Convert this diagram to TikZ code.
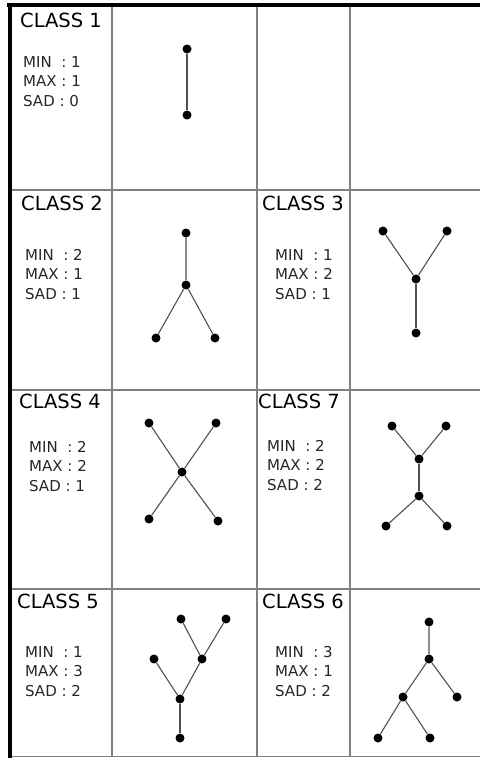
\documentclass[tikz,border=0pt]{standalone}
\usepackage{fontspec}
\setmainfont{DejaVu Sans}
\usepackage{xcolor}
\definecolor{grid-gray}{HTML}{808080}
\definecolor{edge-gray}{HTML}{505050}

% one cell of text: title and the three counts
\newcommand{\classcell}[9]{%
  \node[title, anchor=base west] (t#1) at (#2,#3) {CLASS #6};
  \node[stat, anchor=base west] (mn#1) at (#4,#5) {MIN\ \ : #7};
  \node[stat, anchor=base west] (mx#1) at (#4,#5+19.5) {MAX : #8};
  \node[stat, anchor=base west] (sd#1) at (#4,#5+39) {SAD : #9};
}

\begin{document}
\begin{tikzpicture}[x=1pt, y=-1pt,
      title/.style={inner sep=0pt, font=\fontsize{19.5}{22}\selectfont},
      stat/.style={inner sep=0pt, text=black!85, font=\fontsize{15}{18}\selectfont},
      pt/.style={circle, fill=black, inner sep=0pt, minimum size=9pt},
      edge/.style={edge-gray, line width=1.1pt},
      gridline/.style={grid-gray, line width=1.3pt}]
    \useasboundingbox (0,0) rectangle (480,758);
    % grid
    \foreach \gx in {112,257,350}
      \draw[gridline] (\gx,5) -- (\gx,757);
    \foreach \gy in {190,390,589,756.5}
      \draw[gridline] (10,\gy) -- (480,\gy);
    \draw[line width=4pt] (7,5) -- (480,5);
    \draw[line width=4pt] (9.5,3) -- (9.5,758);

    \classcell{1}{20}{27}{23}{67}{1}{1}{1}{0}
    \classcell{2}{21}{210}{25}{260}{2}{2}{1}{1}
    \classcell{3}{262}{210}{275}{260}{3}{1}{2}{1}
    \classcell{4}{19}{408}{29}{452}{4}{2}{2}{1}
    \classcell{7}{258}{408}{267}{451}{7}{2}{2}{2}
    \classcell{5}{17}{608}{25}{657}{5}{1}{3}{2}
    \classcell{6}{262}{608}{275}{657}{6}{3}{1}{2}

    % class 1
    \node[pt] (a1) at (187,49) {};
    \node[pt] (a2) at (187,115) {};
    \draw[edge] (a1) -- (a2);

    % class 2
    \node[pt] (b1) at (186,233) {};
    \node[pt] (b2) at (186,285) {};
    \node[pt] (b3) at (156,338) {};
    \node[pt] (b4) at (215,338) {};
    \draw[edge] (b1) -- (b2) -- (b3);
    \draw[edge] (b2) -- (b4);

    % class 3
    \node[pt] (c1) at (383,231) {};
    \node[pt] (c2) at (447,231) {};
    \node[pt] (c3) at (416,279) {};
    \node[pt] (c4) at (416,333) {};
    \draw[edge] (c1) -- (c3) -- (c2);
    \draw[edge] (c3) -- (c4);

    % class 4
    \node[pt] (d1) at (149,423) {};
    \node[pt] (d2) at (216,423) {};
    \node[pt] (d3) at (182,472) {};
    \node[pt] (d4) at (149,519) {};
    \node[pt] (d5) at (218,521) {};
    \draw[edge] (d1) -- (d3) -- (d5);
    \draw[edge] (d2) -- (d3) -- (d4);

    % class 7
    \node[pt] (g1) at (392,426) {};
    \node[pt] (g2) at (446,426) {};
    \node[pt] (g3) at (419,459) {};
    \node[pt] (g4) at (419,496) {};
    \node[pt] (g5) at (386,526) {};
    \node[pt] (g6) at (447,526) {};
    \draw[edge] (g1) -- (g3) -- (g2);
    \draw[edge] (g3) -- (g4);
    \draw[edge] (g5) -- (g4) -- (g6);

    % class 5
    \node[pt] (e1) at (181,619) {};
    \node[pt] (e2) at (226,619) {};
    \node[pt] (e3) at (154,659) {};
    \node[pt] (e4) at (202,659) {};
    \node[pt] (e5) at (180,699) {};
    \node[pt] (e6) at (180,738) {};
    \draw[edge] (e1) -- (e4) -- (e2);
    \draw[edge] (e3) -- (e5) -- (e4);
    \draw[edge] (e5) -- (e6);

    % class 6
    \node[pt] (f1) at (429,622) {};
    \node[pt] (f2) at (429,659) {};
    \node[pt] (f3) at (457,697) {};
    \node[pt] (f4) at (403,697) {};
    \node[pt] (f5) at (378,738) {};
    \node[pt] (f6) at (430,738) {};
    \draw[edge] (f1) -- (f2) -- (f3);
    \draw[edge] (f2) -- (f4);
    \draw[edge] (f5) -- (f4) -- (f6);
\end{tikzpicture}
\end{document}
